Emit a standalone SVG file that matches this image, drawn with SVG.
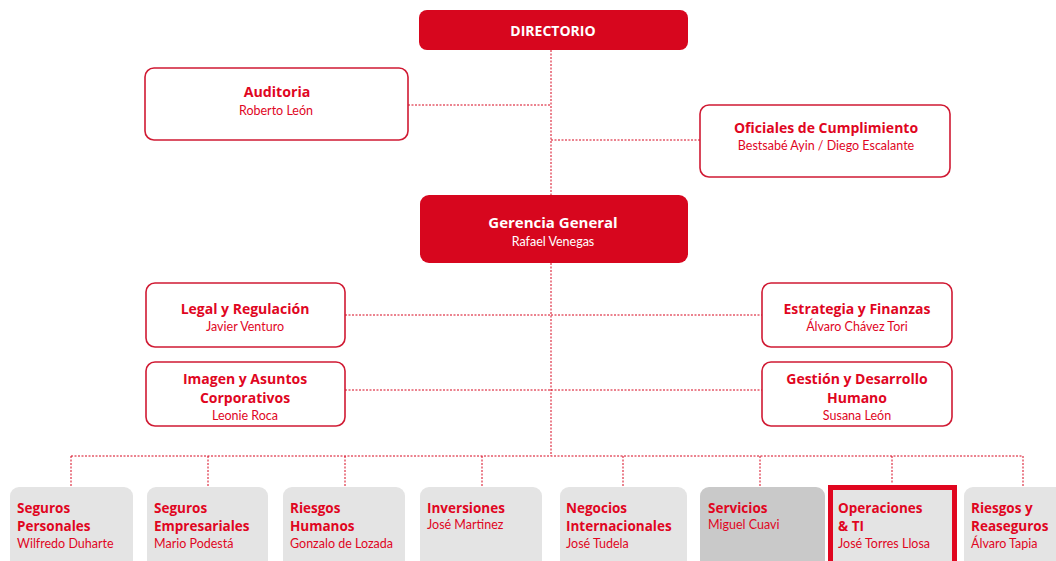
<svg xmlns="http://www.w3.org/2000/svg" width="1056" height="561" viewBox="0 0 1056 561">
  <style>
    .solid { fill: #d7061e; }
    .outline { fill: #ffffff; stroke: #d01a33; stroke-width: 1.6; }
    .unit { fill: #e4e4e4; }
    .unit-dark { fill: #c9c9c9; }
    .wire { fill: none; stroke: #d7061e; stroke-width: 1; stroke-dasharray: 2 1.5; }
    .lbl { fill: #e0061f; }
    .title { font-family: "Open Sans", "Liberation Sans", sans-serif; font-weight: 700; font-size: 14px; }
    .sm { font-size: 13.5px; }
    .name { font-family: Lato, "Liberation Sans", sans-serif; font-weight: 400; font-size: 12.5px; }
    .white { fill: #ffffff; }
    .c { text-anchor: middle; }
  </style>

  <!-- connectors -->
  <g id="connectors">
    <line class="wire" x1="551" y1="50" x2="551" y2="196"/>
    <line class="wire" x1="551" y1="263" x2="551" y2="456"/>
    <line class="wire" x1="408" y1="105" x2="551" y2="105"/>
    <line class="wire" x1="551" y1="140" x2="700" y2="140"/>
    <line class="wire" x1="345" y1="315" x2="551" y2="315"/>
    <line class="wire" x1="551" y1="315" x2="762" y2="315"/>
    <line class="wire" x1="345" y1="390" x2="551" y2="390"/>
    <line class="wire" x1="551" y1="390" x2="762" y2="390"/>
    <line class="wire" x1="71" y1="456" x2="1023" y2="456"/>
    <line class="wire" x1="71" y1="456" x2="71" y2="486"/>
    <line class="wire" x1="208" y1="456" x2="208" y2="486"/>
    <line class="wire" x1="345" y1="456" x2="345" y2="486"/>
    <line class="wire" x1="482" y1="456" x2="482" y2="486"/>
    <line class="wire" x1="623" y1="456" x2="623" y2="486"/>
    <line class="wire" x1="760" y1="456" x2="760" y2="486"/>
    <line class="wire" x1="892" y1="456" x2="892" y2="484"/>
    <line class="wire" x1="1023" y1="456" x2="1023" y2="486"/>
  </g>

  <g id="directorio">
    <rect class="solid" x="419" y="10" width="269" height="40" rx="8"/>
    <text class="title white c" x="553" y="36">DIRECTORIO</text>
  </g>

  <g id="auditoria">
    <rect class="outline" x="145" y="68" width="263" height="72" rx="9"/>
    <text class="lbl c" x="277" y="97"><tspan class="title" style="font-size:14.2px">Auditoria</tspan><tspan class="name" x="276" dy="18">Roberto León</tspan></text>
  </g>

  <g id="oficiales">
    <rect class="outline" x="700" y="105" width="250" height="72" rx="9"/>
    <text class="lbl c" x="826" y="133"><tspan class="title">Oficiales de Cumplimiento</tspan><tspan class="name" x="826" dy="16.6">Bestsabé Ayin / Diego Escalante</tspan></text>
  </g>

  <g id="gerencia">
    <rect class="solid" x="420" y="195" width="268" height="68" rx="9"/>
    <text class="white c" x="553" y="228"><tspan class="title" style="font-size:15px">Gerencia General</tspan><tspan class="name" x="553" dy="18">Rafael Venegas</tspan></text>
  </g>

  <g id="legal">
    <rect class="outline" x="146" y="283" width="199" height="64" rx="9"/>
    <text class="lbl c" x="245" y="314"><tspan class="title">Legal y Regulación</tspan><tspan class="name" x="245" dy="16.6">Javier Venturo</tspan></text>
  </g>

  <g id="imagen">
    <rect class="outline" x="146" y="362" width="199" height="64" rx="9"/>
    <text class="lbl c" x="245" y="384"><tspan class="title">Imagen y Asuntos</tspan><tspan class="title" x="245" dy="19.2">Corporativos</tspan><tspan class="name" x="245" dy="16.6">Leonie Roca</tspan></text>
  </g>

  <g id="estrategia">
    <rect class="outline" x="762" y="283" width="190" height="64" rx="9"/>
    <text class="lbl c" x="857" y="314"><tspan class="title">Estrategia y Finanzas</tspan><tspan class="name" x="857" dy="16.6">Álvaro Chávez Tori</tspan></text>
  </g>

  <g id="gestion">
    <rect class="outline" x="762" y="362" width="190" height="64" rx="9"/>
    <text class="lbl c" x="857" y="384"><tspan class="title">Gestión y Desarrollo</tspan><tspan class="title" x="857" dy="19.2">Humano</tspan><tspan class="name" x="857" dy="16.6">Susana León</tspan></text>
  </g>

  <g id="seguros-personales">
    <rect class="unit" x="10" y="487" width="123" height="84" rx="9"/>
    <text class="lbl" x="17" y="512.5"><tspan class="title sm">Seguros</tspan><tspan class="title sm" x="17" dy="18.6">Personales</tspan><tspan class="name" x="17" dy="16.4">Wilfredo Duharte</tspan></text>
  </g>

  <g id="seguros-empresariales">
    <rect class="unit" x="147" y="487" width="121" height="84" rx="9"/>
    <text class="lbl" x="154" y="512.5"><tspan class="title sm">Seguros</tspan><tspan class="title sm" x="154" dy="18.6">Empresariales</tspan><tspan class="name" x="154" dy="16.4">Mario Podestá</tspan></text>
  </g>

  <g id="riesgos-humanos">
    <rect class="unit" x="283" y="487" width="122" height="84" rx="9"/>
    <text class="lbl" x="290" y="512.5"><tspan class="title sm">Riesgos</tspan><tspan class="title sm" x="290" dy="18.6">Humanos</tspan><tspan class="name" x="290" dy="16.4">Gonzalo de Lozada</tspan></text>
  </g>

  <g id="inversiones">
    <rect class="unit" x="420" y="487" width="122" height="84" rx="9"/>
    <text class="lbl" x="427" y="512.5"><tspan class="title sm">Inversiones</tspan><tspan class="name" x="427" dy="16.4">José Martinez</tspan></text>
  </g>

  <g id="negocios">
    <rect class="unit" x="560" y="487" width="127" height="84" rx="9"/>
    <text class="lbl" x="566" y="512.5"><tspan class="title sm">Negocios</tspan><tspan class="title sm" x="566" dy="18.6">Internacionales</tspan><tspan class="name" x="566" dy="16.4">José Tudela</tspan></text>
  </g>

  <g id="servicios">
    <rect class="unit-dark" x="700" y="487" width="125" height="84" rx="9"/>
    <text class="lbl" x="708" y="512.5"><tspan class="title sm">Servicios</tspan><tspan class="name" x="708" dy="16.4">Miguel Cuavi</tspan></text>
  </g>

  <g id="operaciones">
    <rect class="unit" x="831" y="487" width="123" height="80"/>
    <rect x="830.5" y="487.5" width="124" height="80" fill="none" stroke="#e0061f" stroke-width="5"/>
    <text class="lbl" x="838" y="512.5"><tspan class="title sm">Operaciones</tspan><tspan class="title sm" x="838" dy="18.6">&amp; TI</tspan><tspan class="name" x="838" dy="16.4">José Torres Llosa</tspan></text>
  </g>

  <g id="riesgos-reaseguros">
    <rect class="unit" x="964" y="487" width="110" height="84" rx="9"/>
    <text class="lbl" x="971" y="512.5"><tspan class="title sm">Riesgos y</tspan><tspan class="title sm" x="971" dy="18.6">Reaseguros</tspan><tspan class="name" x="971" dy="16.4">Álvaro Tapia</tspan></text>
  </g>
</svg>
